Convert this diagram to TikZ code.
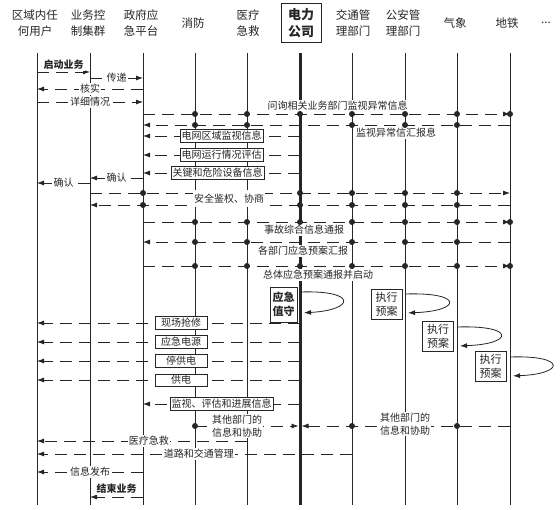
\documentclass[tikz,border=0pt]{standalone}
\usepackage{fontspec}
\setmainfont{Noto Sans CJK SC}
\usetikzlibrary{arrows.meta}

\tikzset{
    life/.style={line width=0.8pt},
    msg/.style={line width=0.8pt, dash pattern=on 12pt off 7pt, -{Latex[length=7pt,width=5pt]}},
    lbl/.style={solid, fill=white, inner sep=1pt, font=\fontsize{10}{12}\selectfont},
    lbl2/.style={lbl, align=center, font=\fontsize{10}{13}\selectfont},
    tag/.style={lbl, draw, line width=0.6pt, inner sep=1.6pt},
    act/.style={tag, minimum width=52pt},
    head/.style={align=center, font=\fontsize{11.5}{16}\selectfont},
    plan/.style={draw, line width=0.8pt, align=center, inner sep=1.5pt, font=\fontsize{11}{14}\selectfont, minimum width=31pt, minimum height=30pt},
    selfloop/.style={line width=0.8pt, -{Latex[length=7pt,width=5pt]}}
}

\begin{document}
\begin{tikzpicture}[x=1pt, y=-1pt, color=black!85]
    \useasboundingbox[fill=white] (0,0) rectangle (560,510);

    \node[head] (h1) at (35,23) {区域内任\\何用户};
    \node[head] (h2) at (88,23) {业务控\\制集群};
    \node[head] (h3) at (141,23) {政府应\\急平台};
    \node[head] (h4) at (193,23) {消防};
    \node[head] (h5) at (248,23) {医疗\\急救};
    \node[head, draw, line width=1pt, font=\bfseries\fontsize{13}{17}\selectfont, minimum width=40pt, minimum height=39pt] (h6) at (301,23) {电力\\公司};
    \node[head] (h7) at (353,23) {交通管\\理部门};
    \node[head] (h8) at (403,23) {公安管\\理部门};
    \node[head] (h9) at (455,23) {气象};
    \node[head] (h10) at (507,23) {地铁};
    \node[head] (h11) at (546,23) {...};

    \foreach \n/\x in {1/37,2/90,3/143,4/195,5/247,7/352,8/405,9/457,10/510} {
        \coordinate (L\n) at (\x,53);
        \draw[life] (L\n) -- (\x,505);
    }
    \coordinate (L6) at (300,53);
    \draw[line width=3pt] (L6) -- (L6|-0,505);

    \draw[msg] (L1|-0,72) -- node[lbl, above=1pt, font=\bfseries\fontsize{10}{12}\selectfont] (m1) {启动业务} (L2|-0,72);
    \draw[msg] (L2|-0,78) -- node[lbl] (m2) {传递} (L3|-0,78);
    \draw[msg] (L3|-0,89) -- node[lbl] (m3) {核实} (L1|-0,89);
    \draw[msg] (L1|-0,102) -- node[lbl] (m4) {详细情况} (L3|-0,102);
    \draw[msg] (L3|-0,114) -- node[lbl, above=2pt, pos=0.53] (m5) {问询相关业务部门监视异常信息} (L10|-0,114);
    \foreach \i in {4,...,10} \fill (L\i|-0,114) circle (3pt);
    \draw[msg] (L10|-0,125) -- node[lbl, below=2pt, pos=0.31] (m6) {监视异常信汇报息} (L3|-0,125);
    \foreach \i in {4,5,7,8,9} \fill (L\i|-0,125) circle (3pt);
    \draw[msg] (L6|-0,136) -- node[tag] (m7) {电网区域监视信息} (L3|-0,136);
    \draw[msg] (L6|-0,155) -- node[tag] (m8) {电网运行情况评估} (L3|-0,155);
    \draw[msg] (L6|-0,173) -- node[tag, pos=0.525] (m9) {关键和危险设备信息} (L3|-0,173);
    \draw[msg] (L3|-0,178) -- node[lbl] (m10) {确认} (L2|-0,178);
    \draw[msg] (L2|-0,183) -- node[lbl] (m11) {确认} (L1|-0,183);

    \draw[msg] (L2|-0,193) -- (L10|-0,193);
    \draw[msg] (L10|-0,205) -- (L2|-0,205);
    \node[lbl, minimum height=17pt] (m12) at (229,199) {安全鉴权、协商};
    \foreach \i in {3,6,7,8,9} {
        \fill (L\i|-0,193) circle (3pt);
        \fill (L\i|-0,205) circle (3pt);
    }

    \draw[msg] (L3|-0,222) -- node[lbl, below=2pt, pos=0.439] (m14) {事故综合信息通报} (L10|-0,222);
    \foreach \i in {4,...,10} \fill (L\i|-0,222) circle (3pt);
    \draw[msg] (L10|-0,242) -- node[lbl, below=3pt, pos=0.564] (m15) {各部门应急预案汇报} (L3|-0,242);
    \foreach \i in {4,5,7,8,9} \fill (L\i|-0,242) circle (3pt);
    \draw[msg] (L3|-0,266) -- node[lbl, below=3pt, pos=0.477] (m16) {总体应急预案通报并启动} (L10|-0,266);
    \foreach \i in {4,...,10} \fill (L\i|-0,266) circle (3pt);

    \node[plan, font=\bfseries\fontsize{11}{14}\selectfont, minimum width=27pt, minimum height=35pt] (duty) at (283.5,304.5) {应急\\值守};
    \node[plan] (plan1) at (386.5,304) {执行\\预案};
    \node[plan] (plan2) at (438,336) {执行\\预案};
    \node[plan] (plan3) at (490.5,366) {执行\\预案};
    \draw[selfloop, shorten >=4pt] (L6|-0,292) .. controls (358,290) and (355,310) .. (L6|-0,313);
    \draw[selfloop, shorten >=3pt] (L8|-0,294) .. controls (464,292) and (462,311) .. (L8|-0,313);
    \draw[selfloop, shorten >=3pt] (L9|-0,327) .. controls (516,325) and (514,344) .. (L9|-0,346);
    \draw[selfloop, shorten >=3pt] (L10|-0,357) .. controls (567,355) and (565,374) .. (L10|-0,376);

    \draw[msg] (L6|-0,323) -- node[act, pos=0.452] (m17) {现场抢修} (L1|-0,323);
    \draw[msg] (L6|-0,342) -- node[act, pos=0.452] (m18) {应急电源} (L1|-0,342);
    \draw[msg] (L6|-0,361) -- node[act, pos=0.452] (m19) {停供电} (L1|-0,361);
    \draw[msg] (L6|-0,380) -- node[act, pos=0.452] (m20) {供电} (L1|-0,380);
    \draw[msg] (L6|-0,404) -- node[tag] (m21) {监视、评估和进展信息} (L3|-0,404);

    \draw[msg, shorten >=1.5pt] (L4|-0,426) -- node[lbl2, pos=0.4] (m22) {其他部门的\\信息和协助} (L6|-0,426);
    \fill (L4|-0,426) circle (3pt);
    \draw[msg, shorten >=1.5pt] (L10|-0,426) -- node[lbl2, yshift=2pt] (m23) {其他部门的\\信息和协助} (L6|-0,426);
    \foreach \i in {7,9} \fill (L\i|-0,426) circle (3pt);

    \draw[msg] (L5|-0,441) -- node[lbl, pos=0.467] (m24) {医疗急救} (L1|-0,441);
    \draw[msg] (L7|-0,454) -- node[lbl, pos=0.486] (m25) {道路和交通管理} (L1|-0,454);
    \draw[msg] (L3|-0,472) -- node[lbl] (m26) {信息发布} (L1|-0,472);
    \draw[msg] (L3|-0,497) -- node[lbl, above=2pt, font=\bfseries\fontsize{10}{12}\selectfont] (m27) {结束业务} (L2|-0,497);
\end{tikzpicture}
\end{document}
